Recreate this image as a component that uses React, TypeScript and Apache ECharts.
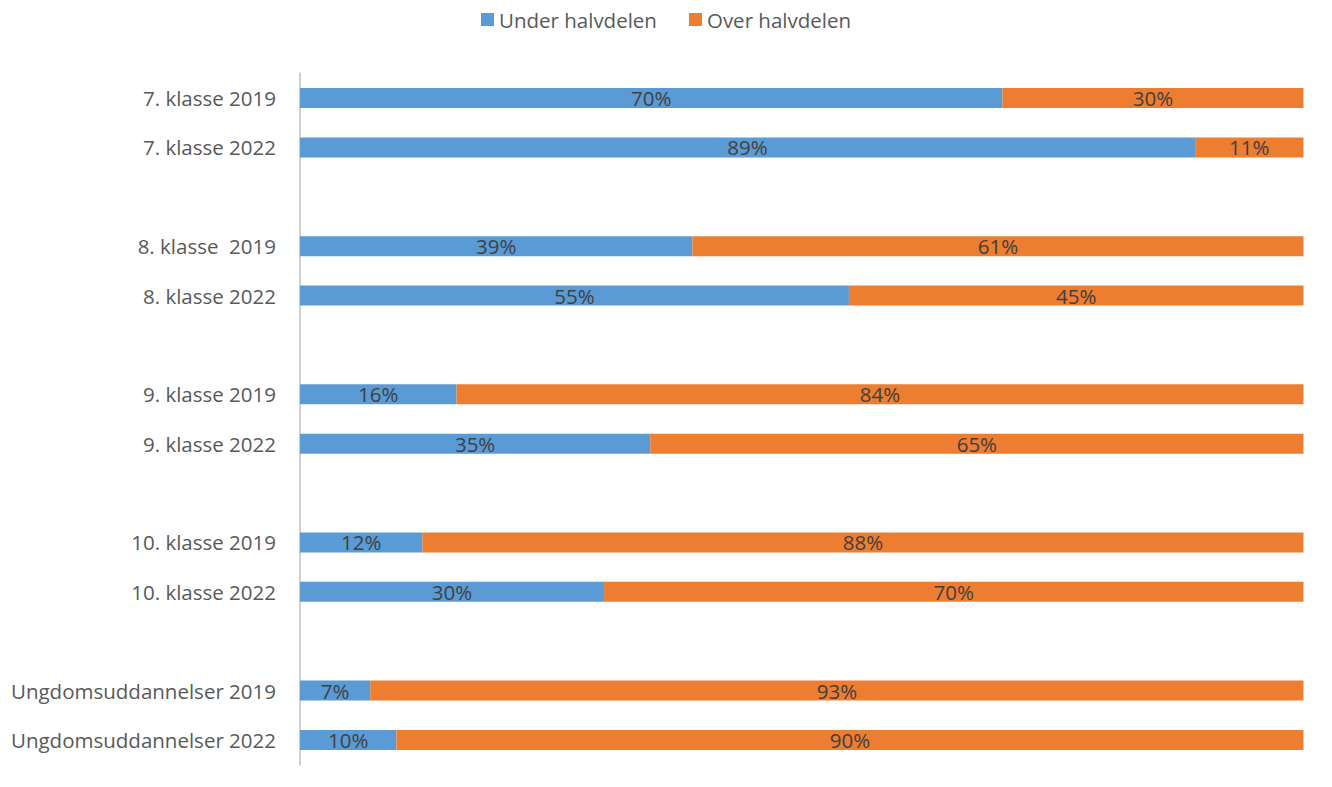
import React, { useEffect, useRef } from "react";
import * as echarts from "echarts";

const categories = [
  "7. klasse 2019",
  "7. klasse 2022",
  " ",
  "8. klasse  2019",
  "8. klasse 2022",
  "  ",
  "9. klasse 2019",
  "9. klasse 2022",
  "   ",
  "10. klasse 2019",
  "10. klasse 2022",
  "    ",
  "Ungdomsuddannelser 2019",
  "Ungdomsuddannelser 2022",
];

const underValues: (number | string)[] = [70.0, 89.2, "-", 39.1, 54.7, "-", 15.6, 34.9, "-", 12.2, 30.3, "-", 7.0, 9.6];
const overValues: (number | string)[] = [30.0, 10.8, "-", 60.9, 45.3, "-", 84.4, 65.1, "-", 87.8, 69.7, "-", 93.0, 90.4];

const seriesNames = ["Under halvdelen", "Over halvdelen"];
const colors = ["#5b9bd5", "#ed7d31"];

const FONT = "Open Sans";

export default function App() {
  const ref = useRef<HTMLDivElement>(null);
  useEffect(() => {
    if (!ref.current) return;
    const chart = echarts.init(ref.current, undefined, { renderer: "svg" });
    const label = {
      show: true,
      position: "inside" as const,
      color: "#404040",
      fontSize: 20.5,
      fontFamily: FONT,
      formatter: (p: any) => `${Math.round(p.value)}%`,
    };
    chart.setOption({
      animation: false,
      textStyle: { fontFamily: FONT },
      legend: {
        top: 4,
        left: "center",
        itemWidth: 13,
        itemHeight: 13,
        itemGap: 32,
        icon: "rect",
        textStyle: { fontSize: 20.5, color: "#595959", fontFamily: FONT },
        data: seriesNames,
      },
      grid: { left: 300, right: 28.5, top: 73.3, bottom: 22.3, containLabel: false },
      xAxis: { type: "value", min: 0, max: 100, show: false },
      yAxis: {
        type: "category",
        data: categories,
        inverse: true,
        axisLine: { show: true, lineStyle: { color: "#d0d0d0", width: 2 } },
        axisTick: { show: false },
        axisLabel: { fontSize: 20.5, color: "#595959", margin: 24, fontFamily: FONT },
        splitLine: { show: false },
      },
      series: [
        {
          name: seriesNames[0],
          type: "bar",
          stack: "total",
          barWidth: 20,
          data: underValues,
          itemStyle: { color: colors[0] },
          label,
        },
        {
          name: seriesNames[1],
          type: "bar",
          stack: "total",
          barWidth: 20,
          data: overValues,
          itemStyle: { color: colors[1] },
          label,
        },
      ],
    });
    return () => chart.dispose();
  }, []);
  return (
    <div
      ref={ref}
      style={{ position: "absolute", left: 0, top: 0, width: 1332, height: 787 }}
    />
  );
}
